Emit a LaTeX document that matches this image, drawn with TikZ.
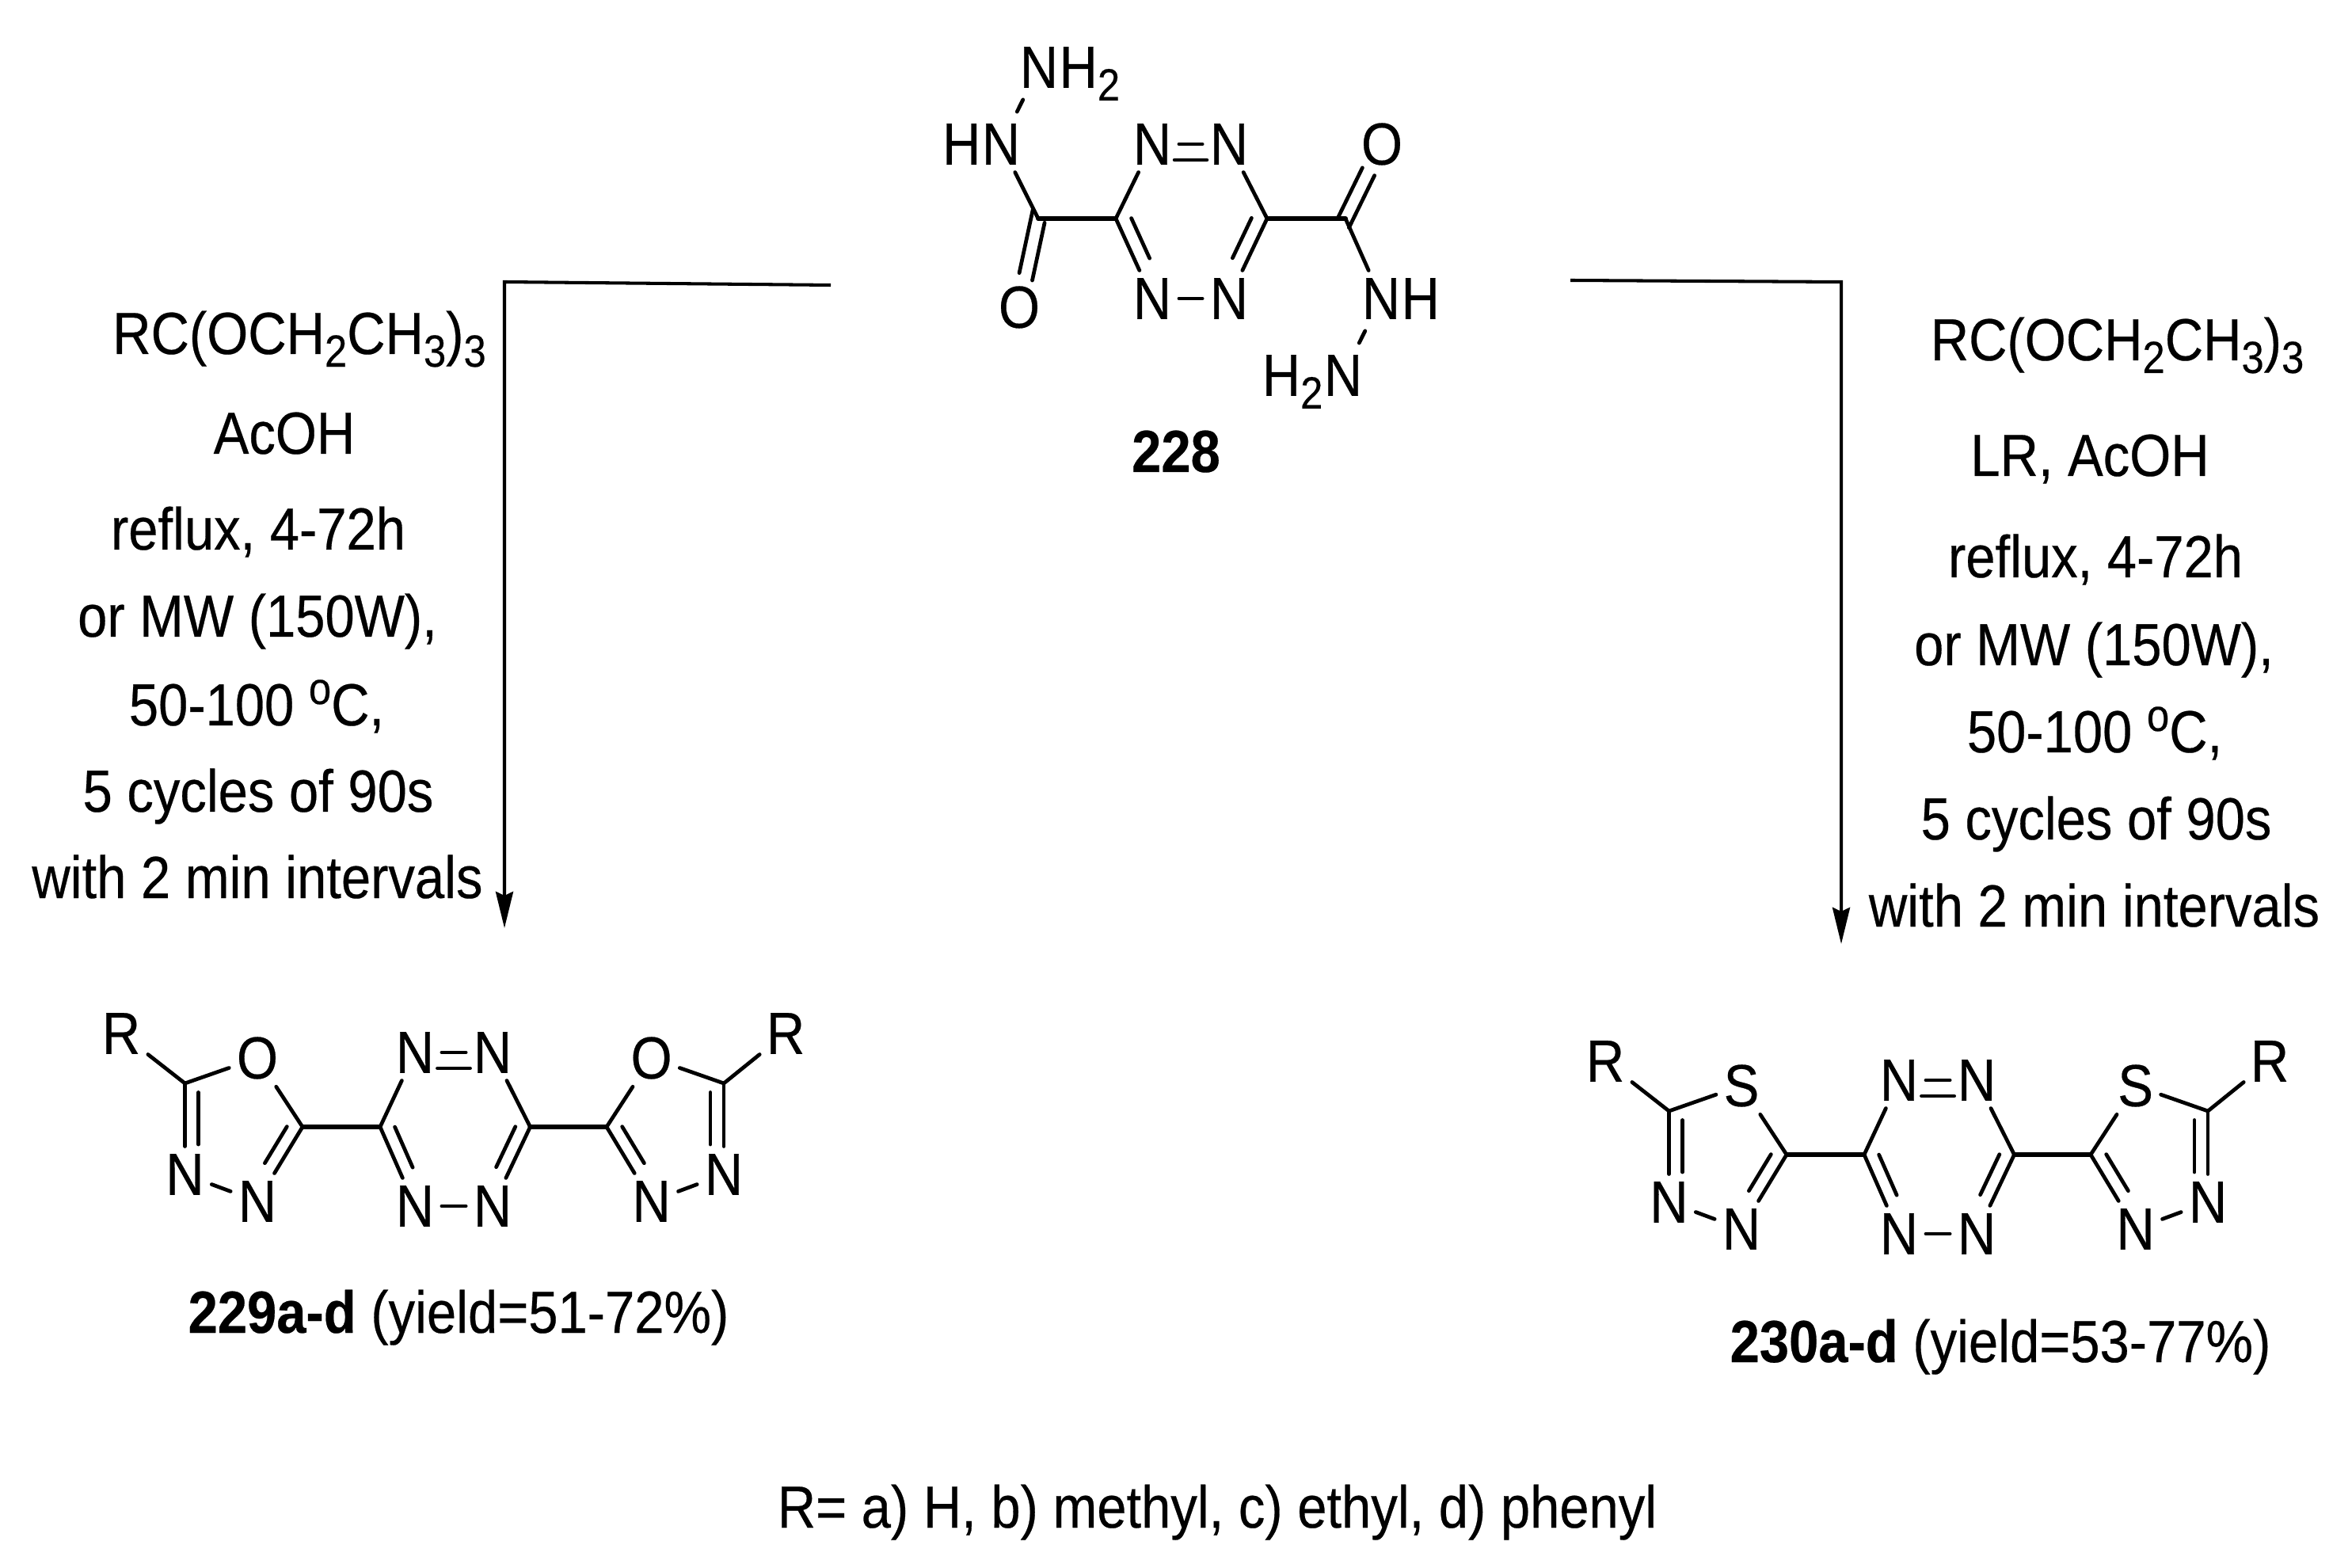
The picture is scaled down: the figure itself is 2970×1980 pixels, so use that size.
\documentclass[tikz,border=0pt]{standalone}
\usepackage{fontspec}
\setmainfont{Liberation Sans}[FakeStretch=0.892,FakeBold=0.35]
\usetikzlibrary{calc,arrows.meta}
\newcommand\subn[1]{\raisebox{-0.16cm}{\fontsize{16.2pt}{18pt}\selectfont #1}}
\newcommand\supo{\raisebox{0.27cm}{\fontsize{16.2pt}{18pt}\selectfont o}}
\newcommand\inl[5]{\draw[bond] ($(#1)!#3!(#2)!#5!90:(#2)$) -- ($(#1)!#4!(#2)!#5!90:(#2)$);}
\newcommand\bisazole[1]{%
  \coordinate (ca) at (233.5,1368);
  \coordinate (cb) at (382,1423);
  \coordinate (c6) at (480,1423);
  \coordinate (c3) at (669.5,1423);
  \coordinate (cc) at (766,1423);
  \coordinate (cd) at (914,1368);
  \node[atomr] (r1) at (153,1305) {R};
  \node[atom] (x1) at (325,1336) {#1};
  \node[atom] (n1) at (233.5,1483) {N};
  \node[atom] (n2) at (325,1517) {N};
  \node[atom] (ntl) at (524,1329) {N};
  \node[atom] (ntr) at (622,1329) {N};
  \node[atom] (nbl) at (524,1523) {N};
  \node[atom] (nbr) at (622,1523) {N};
  \node[atom] (x2) at (822.6,1336) {#1};
  \node[atom] (n3) at (822.6,1517) {N};
  \node[atom] (n4) at (914,1483) {N};
  \node[atomr] (r2) at (992,1305) {R};
  \draw[bond] (r1) -- (ca);
  \draw[bond] (ca) -- (x1);
  \draw[bond] (x1) -- (cb);
  \draw[bond] (ca) -- (n1);
  \inl{ca}{n1}{.10}{.67}{0.17cm}
  \draw[bond] (n1) -- (n2);
  \draw[bond] (n2) -- (cb);
  \inl{n2}{cb}{.42}{.91}{0.17cm}
  \draw[bondc] (cb) -- (c6);
  \draw[bond] (c6) -- (ntl);
  \draw[bond] (ntl) -- (ntr);
  \inl{ntr}{ntl}{.29}{.71}{0.2cm}
  \draw[bond] (ntr) -- (c3);
  \draw[bond] (c3) -- (nbr);
  \inl{nbr}{c3}{.42}{.93}{0.17cm}
  \draw[bond] (nbr) -- (nbl);
  \draw[bond] (nbl) -- (c6);
  \inl{c6}{nbl}{.07}{.58}{0.17cm}
  \draw[bondc] (c3) -- (cc);
  \draw[bond] (cc) -- (x2);
  \draw[bond] (cc) -- (n3);
  \inl{cc}{n3}{.09}{.58}{0.17cm}
  \draw[bond] (n3) -- (n4);
  \draw[bond] (n4) -- (cd);
  \inl{n4}{cd}{.33}{.90}{0.17cm}
  \draw[bond] (cd) -- (x2);
  \draw[bond] (cd) -- (r2);
}
\tikzset{
  txt/.style={font=\fontsize{21.34pt}{24pt}\selectfont, inner sep=0pt, anchor=base},
  atom/.style={font=\fontsize{21.34pt}{24pt}\selectfont, inner xsep=0.09cm, inner ysep=0.09cm, anchor=center},
  atomr/.style={atom, inner ysep=0pt},
  sufx/.style={font=\fontsize{21.34pt}{24pt}\selectfont, inner sep=0pt, anchor=base west, xshift=-0.09cm},
  prefx/.style={font=\fontsize{21.34pt}{24pt}\selectfont, inner sep=0pt, anchor=base east, xshift=0.09cm},
  bond/.style={line width=1.35pt, line cap=round},
  bondc/.style={line width=1.7pt, line cap=round},
  rxn/.style={line width=1.15pt, -{Stealth[length=0.46cm,width=0.22cm,inset=0.05cm]}}
}
\begin{document}
\begin{tikzpicture}[x=0.01cm,y=-0.01cm]
\useasboundingbox (0,0) rectangle (2970,1980);
% compound 228
\coordinate (acl) at (1311,276);
\coordinate (c6) at (1409,276);
\coordinate (c3) at (1600,276);
\coordinate (acr) at (1699,276);
\node[atom] (hn) at (1264,182) {N};
\node[prefx] (hnh) at (hn.base west) {H};
\node[atom] (nh2) at (1312,85) {N};
\node[sufx] (nh2h) at (nh2.base east) {H\subn{2}};
\node[atom] (ntl) at (1455,182) {N};
\node[atom] (ntr) at (1552,182) {N};
\node[atom] (nbl) at (1455,377) {N};
\node[atom] (nbr) at (1552,377) {N};
\node[atom] (ol) at (1287,388) {O};
\node[atom] (or) at (1745,182) {O};
\node[atom] (nh) at (1744,377) {N};
\node[sufx] (nhh) at (nh.base east) {H};
\node[atom] (h2n) at (1696,474) {N};
\node[prefx] (h2nh) at (h2n.base west) {H\subn{2}};
\draw[bond,shorten >=0.06cm,shorten <=0.06cm] (hn) -- (nh2);
\draw[bond] (hn) -- (acl);
\inl{acl}{ol}{-.09}{.63}{-0.09cm}
\inl{acl}{ol}{.03}{.68}{0.09cm}
\draw[bondc] (acl) -- (c6);
\draw[bond] (c6) -- (ntl);
\draw[bond] (ntl) -- (ntr);
\inl{ntr}{ntl}{.29}{.71}{0.2cm}
\draw[bond] (ntr) -- (c3);
\draw[bond] (c3) -- (nbr);
\inl{nbr}{c3}{.43}{.93}{0.18cm}
\draw[bond] (nbr) -- (nbl);
\draw[bond] (nbl) -- (c6);
\inl{c6}{nbl}{.07}{.57}{0.18cm}
\draw[bondc] (c3) -- (acr);
\inl{acr}{or}{-.04}{.64}{0.09cm}
\inl{acr}{or}{-.08}{.62}{-0.09cm}
\draw[bond] (acr) -- (nh);
\draw[bond,shorten >=0.06cm,shorten <=0.06cm] (nh) -- (h2n);
\node[txt] (l228) at (1485,596) {\textbf{228}};
% left arrow
\coordinate (la) at (1049,360);
\coordinate (lb) at (637,356);
\coordinate (lc) at (637,1172);
\draw[rxn] (la) -- (lb) -- (lc);
% right arrow
\coordinate (ra) at (1983,354);
\coordinate (rb) at (2325,356);
\coordinate (rc) at (2325,1192);
\draw[rxn] (ra) -- (rb) -- (rc);
% left conditions
\node[txt] (l1) at (378,447) {RC(OCH\subn{2}CH\subn{3})\subn{3}};
\node[txt] (l2) at (359,573) {AcOH};
\node[txt] (l3) at (326,694) {reflux, 4-72h};
\node[txt] (l4) at (325,804) {or MW (150W),};
\node[txt] (l5) at (324,916) {50-100 \supo C,};
\node[txt] (l6) at (326,1025) {5 cycles of 90s};
\node[txt] (l7) at (325,1134) {with 2 min intervals};
% right conditions
\node[txt] (r1t) at (2673.5,455) {RC(OCH\subn{2}CH\subn{3})\subn{3}};
\node[txt] (r2t) at (2639,601) {LR, AcOH};
\node[txt] (r3t) at (2646,729) {reflux, 4-72h};
\node[txt] (r4t) at (2644,840) {or MW (150W),};
\node[txt] (r5t) at (2645,950) {50-100 \supo C,};
\node[txt] (r6t) at (2647,1060) {5 cycles of 90s};
\node[txt] (r7t) at (2644.5,1170) {with 2 min intervals};
% products
\begin{scope}[name prefix=oxa-]
\bisazole{O}
\end{scope}
\begin{scope}[shift={(1874,35)},name prefix=thia-]
\bisazole{S}
\end{scope}
\node[txt] (l229) at (579,1683) {\textbf{229a-d} (yield=51-72\%)};
\node[txt] (l230) at (2526,1720) {\textbf{230a-d} (yield=53-77\%)};
\node[txt] (rdef) at (1537,1929) {R= a) H, b) methyl, c) ethyl, d) phenyl};
\end{tikzpicture}
\end{document}
